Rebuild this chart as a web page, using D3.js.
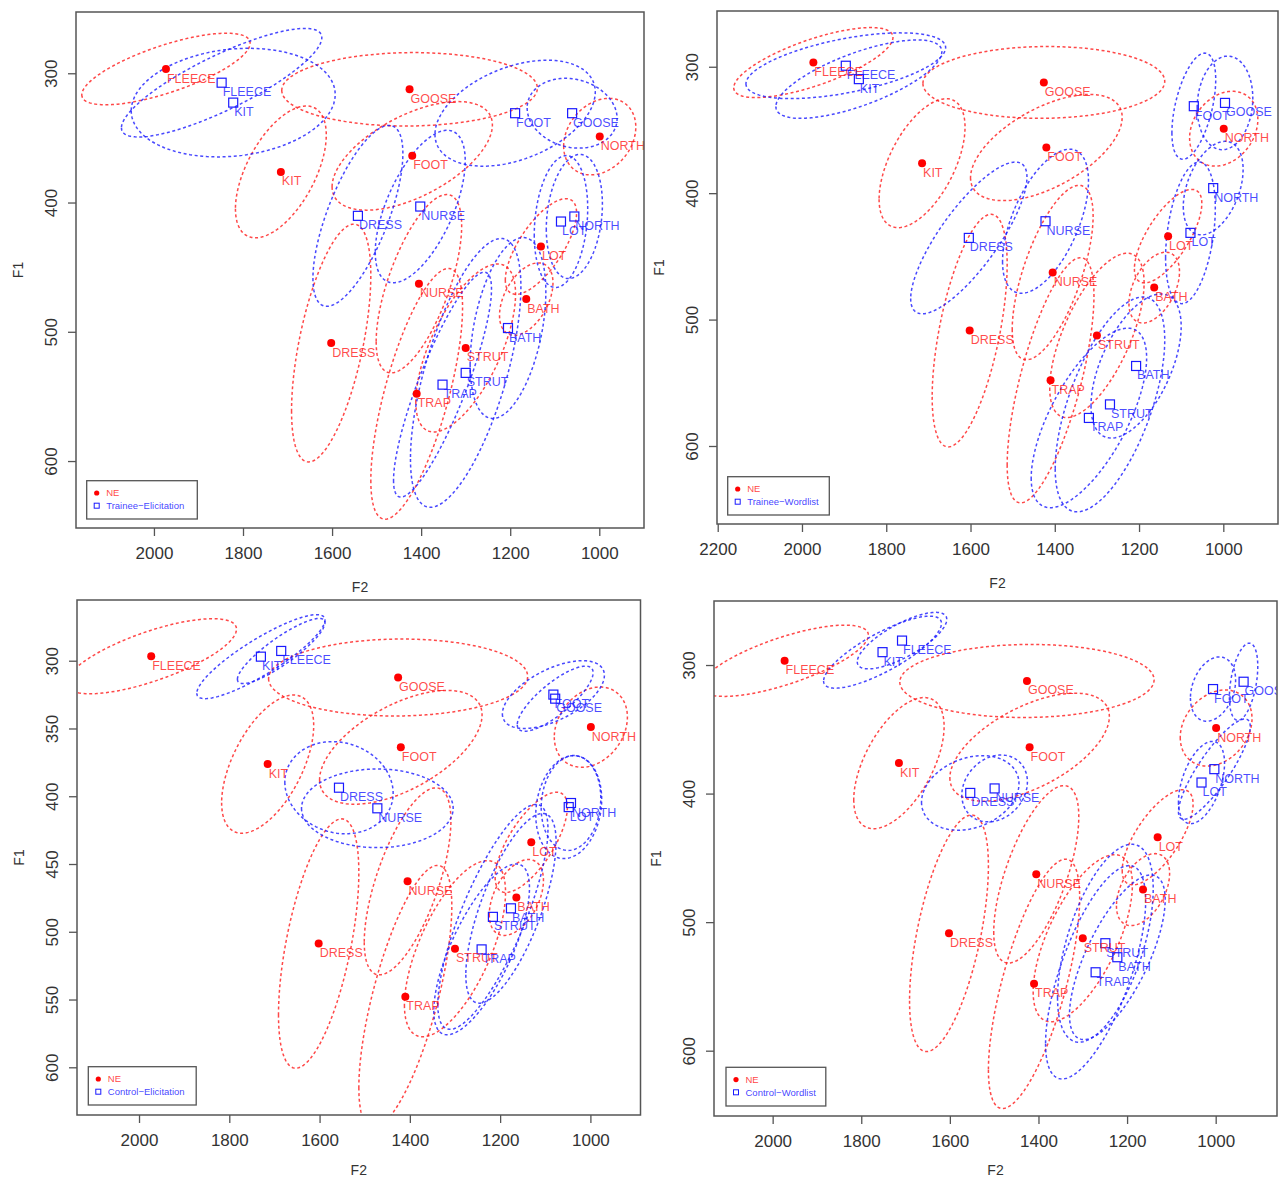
<!DOCTYPE html>
<html>
<head>
<meta charset="utf-8">
<script src="https://cdn.jsdelivr.net/npm/d3@7"></script>
<style>
  body { margin: 0; background: #fff; }
  svg { display: block; font-family: "Liberation Sans", Arial, Helvetica, sans-serif; }
</style>
</head>
<body>
<svg id="chart" width="1282" height="1180"></svg>
<script>
// rows: vowel, mean F2, mean F1, F2 half-spread, F1 half-spread, F2/F1 correlation (all in Hz)
const ne = [
  ['FLEECE', 1973, 296.7, 189, 27.7, 0.72],
  ['KIT',    1715, 376.3, 102, 51,   0.56],
  ['GOOSE',  1426, 312.4, 287, 28.4, 0.03],
  ['FOOT',   1420, 363.9, 180, 42,   0.57],
  ['NORTH',   999, 349,    81, 29.6, 0.25],
  ['LOT',    1131, 434,    80, 37,   0.7],
  ['NURSE',  1405, 462.8,  96, 69,   0.65],
  ['BATH',   1164, 474.7,  60, 28,   0.45],
  ['DRESS',  1602, 508.7,  89, 92,   0.57],
  ['STRUT',  1300, 512.5, 112, 65,   0.64],
  ['TRAP',   1410, 548,   103, 97,   0.69]
];

const traineeElicitation = [
  ['FLEECE', 1848, 307.3, 225, 42, 0.83],
  ['KIT',    1822, 322.7, 229, 42, 0.15],
  ['GOOSE',  1061, 330.9, 101, 27, -0.15],
  ['FOOT',   1189, 330.9, 180, 41, 0.4],
  ['NORTH',  1056, 410.8,  63, 48, 0.2],
  ['LOT',    1086, 414.7,  60, 51, 0.2],
  ['NURSE',  1402, 403.1, 101, 59, 0.6],
  ['BATH',   1205, 497.1,  85, 70, 0.4],
  ['DRESS',  1542, 410.3, 101, 70, 0.69],
  ['STRUT',  1300, 531.8, 124, 104, 0.64],
  ['TRAP',   1352, 540.9, 110, 87, 0.85]
];

const traineeWordlist = [
  ['FLEECE', 1896, 299.2, 237, 26, 0.55],
  ['KIT',    1865, 309.8, 197, 31, 0.7],
  ['FOOT',   1070, 331.2,  52, 42, 0.5],
  ['GOOSE',   996, 328.6,  66, 37, 0.1],
  ['NORTH',  1024, 396,    71, 37, 0.4],
  ['LOT',    1078, 431.4,  59, 56, 0.35],
  ['NURSE',  1422, 422.2, 102, 57, 0.56],
  ['DRESS',  1604, 435.4, 138, 60, 0.8],
  ['BATH',   1207, 536.7, 107, 57, 0.55],
  ['STRUT',  1269, 567.1, 130, 85, 0.6],
  ['TRAP',   1319, 577.8, 137, 71, 0.67]
];

const controlElicitation = [
  ['FLEECE', 1685, 292.8,  97, 24, 0.87],
  ['KIT',    1730, 297,   142, 31, 0.87],
  ['FOOT',   1082, 325,   113, 25, 0.57],
  ['GOOSE',  1078, 328,    84, 24, 0.8],
  ['NORTH',  1043, 405,    66, 35, 0.1],
  ['LOT',    1048, 408,    73, 38, 0.15],
  ['DRESS',  1557, 393.7, 120, 34, -0.12],
  ['NURSE',  1472, 408.9, 168, 29, 0.0],
  ['BATH',   1176, 482.7, 100, 70, 0.7],
  ['STRUT',  1216, 489,   122, 83, 0.78],
  ['TRAP',   1241, 513,   106, 63, 0.72]
];

const controlWordlist = [
  ['FLEECE', 1708, 281,   101, 22, 0.75],
  ['KIT',    1752, 290,   133, 28, 0.8],
  ['DRESS',  1554, 399.5, 110, 29, 0.25],
  ['NURSE',  1499, 396,    74, 26, 0.2],
  ['FOOT',   1006, 318.7,  51, 25, 0.28],
  ['GOOSE',   937, 313,    32, 30, 0.4],
  ['NORTH',  1003, 381,    81, 39, 0.85],
  ['LOT',    1032, 391.4,  52, 32, 0.47],
  ['STRUT',  1249, 516.4, 108, 77, 0.55],
  ['BATH',   1222, 527.3, 108, 64, 0.7],
  ['TRAP',   1271, 539,   113, 83, 0.67]
];

const f2Ticks = [2000, 1800, 1600, 1400, 1200, 1000];
const f2TicksWide = [2200, 2000, 1800, 1600, 1400, 1200, 1000];
const f1Ticks = [300, 400, 500, 600];
const f1TicksFine = [300, 350, 400, 450, 500, 550, 600];

// panel layout: plot box [left, top, right, bottom], axis ranges, legend box [x, y, w, h]
const panels = [
  {group: traineeElicitation, name: 'Trainee\u2212Elicitation', box: [76, 12, 644, 528], titleGap: 59,
   xDomain: [2175, 899.6], yDomain: [252.6, 651.8], xTicks: f2Ticks, yTicks: f1Ticks, legend: [86.7, 480.7, 110.6, 38.3]},
  {group: traineeWordlist, name: 'Trainee\u2212Wordlist', box: [717, 11, 1278, 524], titleGap: 59,
   xDomain: [2201.7, 870.2], yDomain: [255.9, 661.7], xTicks: f2TicksWide, yTicks: f1Ticks, legend: [727.7, 476.7, 101.6, 38.3]},
  {group: controlElicitation, name: 'Control\u2212Elicitation', box: [77, 600, 640.5, 1115], titleGap: 55,
   xDomain: [2137.4, 889], yDomain: [255.2, 635.2], xTicks: f2Ticks, yTicks: f1TicksFine, legend: [88.3, 1066.7, 107.9, 38.3]},
  {group: controlWordlist, name: 'Control\u2212Wordlist', box: [714, 601, 1277, 1116], titleGap: 54,
   xDomain: [2132.4, 861.6], yDomain: [250.2, 650.8], xTicks: f2Ticks, yTicks: f1Ticks, legend: [726, 1067.3, 99.8, 38.7]}
];

const RED = '#ff1a1a', BLUE = '#1a1aff';
const svg = d3.select('#chart');
const defs = svg.append('defs');
const line = d3.line().curve(d3.curveLinearClosed);

// data ellipse from mean, spreads and correlation
function ellipsePoints(row, x, y) {
  const [, f2, f1, sx, sy, r] = row;
  const s = Math.sqrt(1 - r * r);
  return d3.range(144).map(k => {
    const t = k / 144 * 2 * Math.PI;
    return [x(f2 + sx * Math.cos(t)), y(f1 + sy * (r * Math.cos(t) + s * Math.sin(t)))];
  });
}

panels.forEach((p, i) => {
  const [x0, y0, x1, y1] = p.box;
  const x = d3.scaleLinear().domain(p.xDomain).range([x0, x1]);
  const y = d3.scaleLinear().domain(p.yDomain).range([y0, y1]);

  defs.append('clipPath').attr('id', 'clip' + i)
    .append('rect').attr('x', x0).attr('y', y0).attr('width', x1 - x0).attr('height', y1 - y0);

  const g = svg.append('g');
  const plot = g.append('g').attr('clip-path', 'url(#clip' + i + ')');

  // ellipses
  [[ne, RED], [p.group, BLUE]].forEach(([rows, col]) => {
    plot.append('g').selectAll('path')
      .data(rows)
      .enter().append('path')
      .attr('d', d => line(ellipsePoints(d, x, y)))
      .attr('fill', 'none')
      .attr('stroke', col)
      .attr('stroke-opacity', 0.8)
      .attr('stroke-width', 1.5)
      .attr('stroke-dasharray', '3,2.6');
  });

  // NE means
  plot.append('g').selectAll('circle')
    .data(ne)
    .enter().append('circle')
    .attr('cx', d => x(d[1]))
    .attr('cy', d => y(d[2]))
    .attr('r', 4)
    .attr('fill', '#ff0000');

  // group means
  plot.append('g').selectAll('rect')
    .data(p.group)
    .enter().append('rect')
    .attr('x', d => x(d[1]) - 4.5)
    .attr('y', d => y(d[2]) - 4.5)
    .attr('width', 9)
    .attr('height', 9)
    .attr('fill', 'none')
    .attr('stroke', BLUE)
    .attr('stroke-width', 1.2);

  [[ne, RED], [p.group, BLUE]].forEach(([rows, col]) => {
    plot.append('g').selectAll('text')
      .data(rows)
      .enter().append('text')
      .attr('x', d => x(d[1]) + 1)
      .attr('y', d => y(d[2]) + 13.5)
      .attr('font-size', 12.5)
      .attr('fill', col)
      .attr('fill-opacity', 0.8)
      .text(d => d[0]);
  });

  // frame
  g.append('rect')
    .attr('x', x0).attr('y', y0)
    .attr('width', x1 - x0).attr('height', y1 - y0)
    .attr('fill', 'none')
    .attr('stroke', '#555')
    .attr('stroke-width', 1.5);

  // x axis
  const xAxis = g.append('g')
    .attr('transform', 'translate(0,' + y1 + ')')
    .call(d3.axisBottom(x).tickValues(p.xTicks).tickSize(8).tickSizeOuter(0).tickFormat(d3.format('d')));
  xAxis.select('.domain').remove();
  xAxis.selectAll('line').attr('stroke', '#555').attr('stroke-width', 1.3);
  xAxis.selectAll('text')
    .attr('y', 25).attr('dy', '0.35em')
    .attr('font-size', 17).attr('fill', '#333')
    .attr('font-family', '"Liberation Sans", Arial, sans-serif');

  // y axis
  const yAxis = g.append('g')
    .attr('transform', 'translate(' + x0 + ',0)')
    .call(d3.axisLeft(y).tickValues(p.yTicks).tickSize(8).tickSizeOuter(0).tickFormat(d3.format('d')));
  yAxis.select('.domain').remove();
  yAxis.selectAll('line').attr('stroke', '#555').attr('stroke-width', 1.3);
  yAxis.selectAll('text')
    .attr('x', 0).attr('dy', '0.35em')
    .attr('text-anchor', 'middle')
    .attr('transform', 'translate(-25,0) rotate(-90)')
    .attr('font-size', 17).attr('fill', '#333')
    .attr('font-family', '"Liberation Sans", Arial, sans-serif');

  // axis titles
  g.append('text')
    .attr('x', (x0 + x1) / 2).attr('y', y1 + p.titleGap).attr('dy', '0.35em')
    .attr('text-anchor', 'middle').attr('font-size', 14).attr('fill', '#333')
    .text('F2');
  g.append('text')
    .attr('transform', 'translate(' + (x0 - 58) + ',' + ((y0 + y1) / 2) + ') rotate(-90)')
    .attr('dy', '0.35em')
    .attr('text-anchor', 'middle').attr('font-size', 14).attr('fill', '#333')
    .text('F1');

  // legend
  const [lx, ly, lw, lh] = p.legend;
  const legend = g.append('g').attr('transform', 'translate(' + lx + ',' + ly + ')');
  legend.append('rect')
    .attr('width', lw).attr('height', lh)
    .attr('fill', '#fff').attr('stroke', '#555').attr('stroke-width', 1.3);
  legend.append('circle')
    .attr('cx', 10).attr('cy', 12.3).attr('r', 2.6).attr('fill', '#ff0000');
  legend.append('rect')
    .attr('x', 7.5).attr('y', 22.5).attr('width', 5).attr('height', 5)
    .attr('fill', 'none').attr('stroke', BLUE).attr('stroke-width', 1);
  legend.append('text')
    .attr('x', 19.5).attr('y', 12.3).attr('dy', '0.35em')
    .attr('font-size', 9.5).attr('fill', RED).attr('fill-opacity', 0.85)
    .text('NE');
  legend.append('text')
    .attr('x', 19.5).attr('y', 25.3).attr('dy', '0.35em')
    .attr('font-size', 9.5).attr('fill', BLUE).attr('fill-opacity', 0.85)
    .text(p.name);
});
</script>
</body>
</html>
